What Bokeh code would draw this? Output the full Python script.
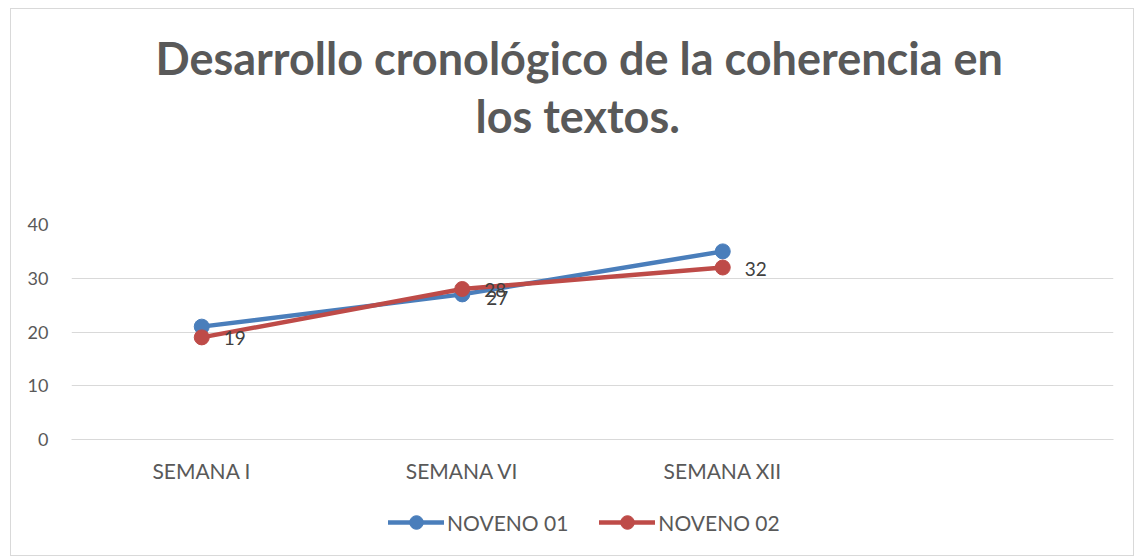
from bokeh.plotting import figure
from bokeh.layouts import column
from bokeh.models import FactorRange, Range1d, Title, Legend, LegendItem, ColumnDataSource, SingleIntervalTicker
from bokeh.embed import file_html
from bokeh.resources import INLINE
from bokeh.core.properties import value

categories = ["SEMANA I", "SEMANA VI", "SEMANA XII", " "]
noveno01 = [21, 27, 35]
noveno02 = [19, 28, 32]
series_names = ["NOVENO 01", "NOVENO 02"]
title_lines = ["Desarrollo cronológico de la coherencia en", "los textos."]

BLUE = "#4a7ebb"
RED = "#be4b48"
GRAY = "#595959"
FONT = "Lato"

p = figure(frame_width=1042, frame_height=215, x_range=FactorRange(*categories, range_padding=0),
           y_range=Range1d(0, 40), output_backend="svg", toolbar_location=None,
           min_border_left=60, min_border_right=20, min_border_top=215, min_border_bottom=50)
p.outline_line_color = None
p.background_fill_color = "white"

# titles (p.title is outermost; panels added first sit closest to the frame)
spacer = Title(text=" ", text_font_size="2px", standoff=77)
p.add_layout(spacer, "above")
t2 = Title(text=title_lines[1], align="left", offset=404, text_font=FONT, text_font_style="bold",
           text_font_size="45px", text_color=GRAY, standoff=2)
p.add_layout(t2, "above")
p.title.text = title_lines[0]
p.title.align = "left"
p.title.offset = 84
p.title.text_font = FONT
p.title.text_font_style = "bold"
p.title.text_font_size = "45px"
p.title.text_color = GRAY
p.title.standoff = 2

# axes
p.yaxis.ticker = SingleIntervalTicker(interval=10)
p.yaxis.axis_line_color = None
p.yaxis.major_tick_line_color = None
p.yaxis.minor_tick_line_color = None
p.yaxis.major_tick_out = 0
p.yaxis.major_tick_in = 0
p.yaxis.major_label_standoff = 19
p.yaxis.major_label_text_font = FONT
p.yaxis.major_label_text_font_size = "18px"
p.yaxis.major_label_text_color = GRAY

p.xaxis.axis_line_color = "#d9d9d9"
p.xaxis.major_tick_line_color = None
p.xaxis.minor_tick_line_color = None
p.xaxis.major_tick_out = 0
p.xaxis.major_tick_in = 0
p.xaxis.major_label_standoff = 18
p.xaxis.major_label_text_font = FONT
p.xaxis.major_label_text_font_size = "21px"
p.xaxis.major_label_text_color = GRAY

p.xgrid.grid_line_color = None
p.ygrid.grid_line_color = "#d9d9d9"
p.ygrid.grid_line_width = 1

x = categories[:3]
s1 = ColumnDataSource(dict(x=x, y=noveno01, lab=[str(v) for v in noveno01]))
s2 = ColumnDataSource(dict(x=x, y=noveno02, lab=[str(v) for v in noveno02]))

p.line("x", "y", source=s1, line_color=BLUE, line_width=4.5, line_cap="round")
p.scatter("x", "y", source=s1, size=15, fill_color=BLUE, line_color=BLUE)
p.line("x", "y", source=s2, line_color=RED, line_width=4.5, line_cap="round")
p.scatter("x", "y", source=s2, size=15, fill_color=RED, line_color=RED)

# data labels
s1lab = ColumnDataSource(dict(x=[x[1]], y=[noveno01[1]], lab=[str(noveno01[1])]))
p.text("x", "y", text="lab", source=s1lab, x_offset=24, y_offset=4, text_baseline="middle",
       text_font=value(FONT), text_font_size="19px", text_color="#404040")
p.text("x", "y", text="lab", source=s2, x_offset=22, y_offset=1, text_baseline="middle",
       text_font=value(FONT), text_font_size="19px", text_color="#404040")

# legend strip below the chart (legend-only renderers hold no drawable point)
q = figure(width=1122, height=66, x_range=Range1d(0, 1), y_range=Range1d(0, 1),
           x_axis_type=None, y_axis_type=None, output_backend="svg", toolbar_location=None,
           min_border_left=0, min_border_right=0, min_border_top=0, min_border_bottom=0)
q.outline_line_color = None
q.grid.visible = False
nan = float("nan")
ql1 = q.line("x", "y", source=ColumnDataSource(dict(x=[nan], y=[nan])), line_color=BLUE, line_width=4.5, line_cap="round")
qc1 = q.scatter("x", "y", source=ColumnDataSource(dict(x=[nan], y=[nan])), size=15, fill_color=BLUE, line_color=BLUE)
ql2 = q.line("x", "y", source=ColumnDataSource(dict(x=[nan], y=[nan])), line_color=RED, line_width=4.5, line_cap="round")
qc2 = q.scatter("x", "y", source=ColumnDataSource(dict(x=[nan], y=[nan])), size=15, fill_color=RED, line_color=RED)
legend = Legend(items=[LegendItem(label=series_names[0], renderers=[ql1, qc1]),
                       LegendItem(label=series_names[1], renderers=[ql2, qc2])],
                orientation="horizontal", location=(317, 16), border_line_color=None,
                label_text_font=FONT, label_text_font_size="21px", label_text_color=GRAY,
                glyph_width=56, glyph_height=34, spacing=31, label_standoff=3,
                margin=0, padding=4, background_fill_alpha=0)
q.add_layout(legend)

layout = column(p, q, spacing=0)
layout.styles = {"border": "1px solid #d9d9d9", "margin-left": "10px", "margin-top": "8px"}

open("out.html", "w").write(file_html(layout, INLINE))
